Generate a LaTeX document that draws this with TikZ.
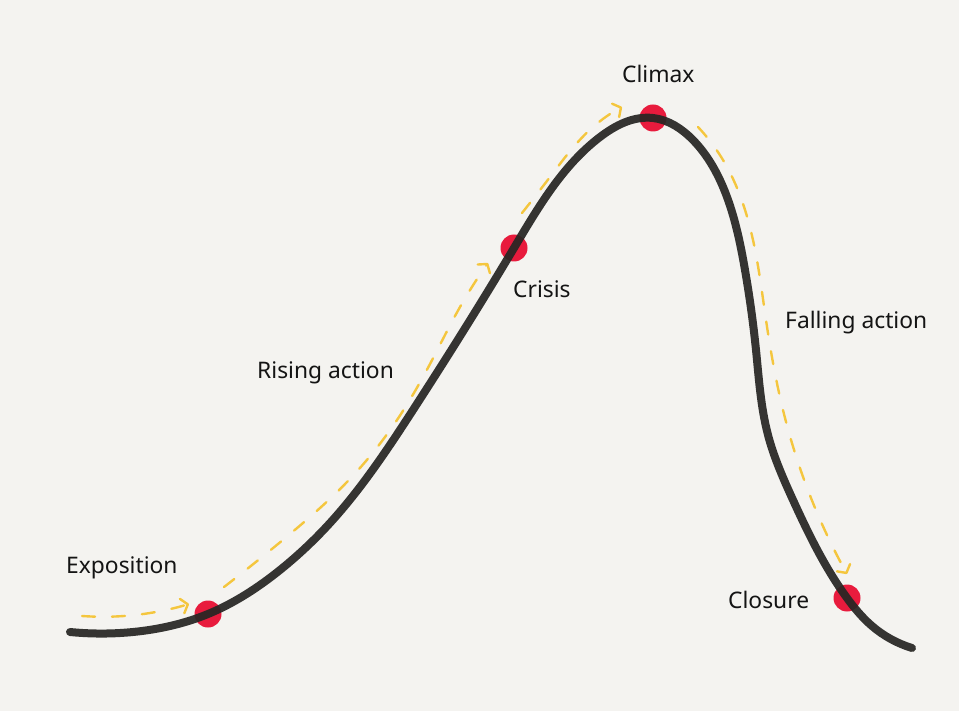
\documentclass[tikz,border=0pt]{standalone}
\usepackage{fontspec}
\setmainfont{Noto Sans}
\usetikzlibrary{arrows.meta,positioning,hobby}
\definecolor{paper}{HTML}{F4F3F0}
\definecolor{ink}{HTML}{272624}
\definecolor{marker}{HTML}{E81B3D}
\definecolor{trail}{HTML}{F4C63E}

\begin{document}
\begin{tikzpicture}[x=1pt, y=-1pt, font=\fontsize{22.8}{27}\selectfont, use Hobby shortcut]
\tikzstyle{dot}=[circle, fill=marker, inner sep=0pt, minimum size=27pt]
\tikzstyle{curve}=[draw=ink, line width=8pt, line cap=round, line join=round, draw opacity=0.93]
\tikzstyle{trail}=[draw=trail, line width=2.4pt, line cap=round, dash pattern=on 13pt off 17pt, -{Straight Barb[length=6pt, width=15pt, round]}]
\tikzstyle{label}=[anchor=base west, inner sep=0pt, text=black!92]

\fill[paper] (0,0) rectangle (959,711);
\useasboundingbox (0,0) rectangle (959,711);

% the turning points
\node[dot] (expo)    at (208,614) {};
\node[dot] (crisis)  at (514,248) {};
\node[dot] (climax)  at (653,118) {};
\node[dot] (closure) at (847,598) {};

% the story line
\draw[curve] (70,632) .. (133,632) .. (expo.center) .. (280,570) .. (330,523)
  .. (413,410) .. (crisis.center) .. (600,137) .. (climax.center)
  .. (693,140) .. (727,197) .. (745,270) .. (756,350) .. (768,435)
  .. (793,500) .. (closure.center) .. (872,626) .. (912,648);

% direction of travel
\draw[trail] (82,616) .. (150,613) .. (189,604);
\draw[trail] (224,587) .. (290,534) .. (347,482) .. (397,420) .. (430,364)
  .. (460,307) .. (488,263);
\draw[trail] (522,213) .. (550,177) .. (593,127) .. (622,107);
\draw[trail] (698,127) .. (723,160) .. (753,240) .. (766,320) .. (783,410)
  .. (813,503) .. (847,574);

% labels
\node[label] (expoText)    at (66,573)  {Exposition};
\node[label] (risingText)  at (257,378) {Rising action};
\node[label] (crisisText)  at (513,298) {Crisis};
\node[label] (climaxText)  at (622,83)  {Climax};
\node[label] (fallingText) at (785,329) {Falling action};
\node[label] (closureText) at (728,608) {Closure};
\end{tikzpicture}
\end{document}
